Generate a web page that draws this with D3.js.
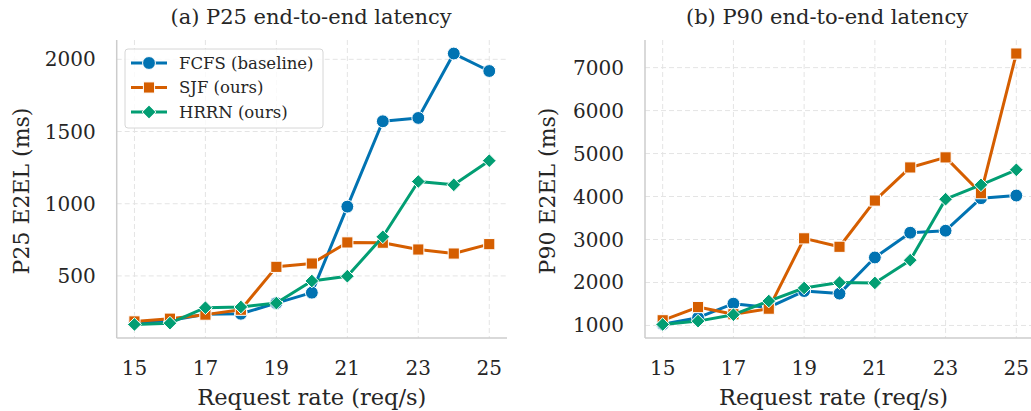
<!DOCTYPE html>
<html>
<head>
<meta charset="utf-8">
<script src="https://cdn.jsdelivr.net/npm/d3@7"></script>
<style>
  body { margin: 0; background: #fff; }
  svg { font-family: "DejaVu Serif", serif; }
  .grid line { stroke: #e4e4e4; stroke-width: 1; stroke-dasharray: 5,3; }
  .spine { stroke: #cccccc; stroke-width: 1.5; }
  .tick-label { font-size: 20px; fill: #262626; }
</style>
</head>
<body>
<div id="container"></div>
<script>
/* DATA */
const rates = [15, 16, 17, 18, 19, 20, 21, 22, 23, 24, 25]
const xTicks = [15, 17, 19, 21, 23, 25]

const seriesNames = ["FCFS (baseline)", "SJF (ours)", "HRRN (ours)"]
const colors = ["#0173b2", "#d55e00", "#029e73"]
const shapes = ["circle", "square", "diamond"]

// P25 end-to-end latency (ms)
const p25Fcfs = [175, 192, 235, 238, 312, 384, 980, 1571, 1594, 2040, 1919]
const p25Sjf  = [185, 204, 232, 266, 563, 586, 732, 730, 683, 655, 720]
const p25Hrrn = [164, 173, 280, 285, 312, 465, 498, 771, 1154, 1131, 1298]
const p25Ticks = [500, 1000, 1500, 2000]

// P90 end-to-end latency (ms)
const p90Fcfs = [1030, 1180, 1507, 1420, 1800, 1741, 2582, 3158, 3205, 3961, 4023]
const p90Sjf  = [1120, 1428, 1260, 1390, 3027, 2831, 3906, 4677, 4911, 4078, 7328]
const p90Hrrn = [1023, 1101, 1250, 1568, 1872, 1997, 1990, 2519, 3938, 4272, 4623]
const p90Ticks = [1000, 2000, 3000, 4000, 5000, 6000, 7000]

const W = 1031, H = 411

const svg = d3.select("#container")
  .append("svg")
  .attr("width", W)
  .attr("height", H)

const symbolFor = {
  circle: d3.symbol().type(d3.symbolCircle).size(130),
  square: d3.symbol().type(d3.symbolSquare).size(125),
  diamond: d3.symbol().type(d3.symbolDiamond2 || d3.symbolDiamond).size(120)
}

function drawPanel(cfg) {
  const all = cfg.series.flat()
  const lo = d3.min(all), hi = d3.max(all)
  const pad = (hi - lo) * 0.05

  const xScale = d3.scaleLinear()
    .domain([14.5, 25.5])
    .range([cfg.left, cfg.right])

  const yScale = d3.scaleLinear()
    .domain([lo - pad, hi + pad])
    .range([338, 40])

  const g = svg.append("g")

  // grid
  const grid = g.append("g").attr("class", "grid")
  grid.selectAll(".gx")
    .data(xTicks)
    .join("line")
    .attr("x1", d => xScale(d)).attr("x2", d => xScale(d))
    .attr("y1", 40).attr("y2", 338)
  grid.selectAll(".gy")
    .data(cfg.yTicks)
    .join("line")
    .attr("x1", cfg.left).attr("x2", cfg.right)
    .attr("y1", d => yScale(d)).attr("y2", d => yScale(d))

  // spines
  g.append("line").attr("class", "spine")
    .attr("x1", cfg.left).attr("x2", cfg.left)
    .attr("y1", 40).attr("y2", 338)
  g.append("line").attr("class", "spine")
    .attr("x1", cfg.left).attr("x2", cfg.right)
    .attr("y1", 338).attr("y2", 338)

  // tick labels
  g.selectAll(".xt")
    .data(xTicks)
    .join("text")
    .attr("class", "tick-label")
    .attr("x", d => xScale(d))
    .attr("y", 375)
    .attr("text-anchor", "middle")
    .text(d => d)

  g.selectAll(".yt")
    .data(cfg.yTicks)
    .join("text")
    .attr("class", "tick-label")
    .attr("x", cfg.left - 21)
    .attr("y", d => yScale(d))
    .attr("dy", "0.35em")
    .attr("text-anchor", "end")
    .text(d => d)

  // axis labels + title
  g.append("text")
    .attr("x", (cfg.left + cfg.right) / 2 + (cfg.xLabelShift || 0))
    .attr("y", 405)
    .attr("text-anchor", "middle")
    .attr("font-size", 22.5)
    .attr("fill", "#262626")
    .text("Request rate (req/s)")

  g.append("text")
    .attr("transform", `translate(${cfg.yLabelX}, ${191}) rotate(-90)`)
    .attr("text-anchor", "middle")
    .attr("font-size", 22)
    .attr("fill", "#262626")
    .text(cfg.yLabel)

  g.append("text")
    .attr("x", cfg.titleX)
    .attr("y", 24)
    .attr("text-anchor", "middle")
    .attr("font-size", 21)
    .attr("fill", "#262626")
    .text(cfg.title)

  // lines
  const lineGen = d3.line()
    .x((d, i) => xScale(rates[i]))
    .y(d => yScale(d))

  cfg.series.forEach((vals, s) => {
    g.append("path")
      .datum(vals)
      .attr("fill", "none")
      .attr("stroke", colors[s])
      .attr("stroke-width", 3)
      .attr("stroke-linejoin", "round")
      .attr("d", lineGen)

    g.selectAll(".m" + s)
      .data(vals)
      .join("path")
      .attr("transform", (d, i) => `translate(${xScale(rates[i])}, ${yScale(d)})`)
      .attr("d", symbolFor[shapes[s]]())
      .attr("fill", colors[s])
      .attr("stroke", "#fff")
      .attr("stroke-width", 1)
  })

  return g
}

drawPanel({
  series: [p25Fcfs, p25Sjf, p25Hrrn],
  yTicks: p25Ticks,
  left: 116.7, right: 507,
  title: "(a) P25 end-to-end latency", titleX: 311,
  yLabel: "P25 E2EL (ms)", yLabelX: 29
})

drawPanel({
  series: [p90Fcfs, p90Sjf, p90Hrrn],
  yTicks: p90Ticks,
  left: 645, right: 1034,
  title: "(b) P90 end-to-end latency", titleX: 827,
  yLabel: "P90 E2EL (ms)", yLabelX: 555,
  xLabelShift: -6
})

// LEGEND
const legend = svg.append("g").attr("transform", "translate(125, 49)")
legend.append("rect")
  .attr("width", 198).attr("height", 79)
  .attr("rx", 3)
  .attr("fill", "#fff").attr("fill-opacity", 0.8)
  .attr("stroke", "#d6d6d6").attr("stroke-width", 1)

seriesNames.forEach((name, s) => {
  const y = 14 + s * 24.5
  legend.append("line")
    .attr("x1", 6).attr("x2", 42)
    .attr("y1", y).attr("y2", y)
    .attr("stroke", colors[s]).attr("stroke-width", 3)
  legend.append("path")
    .attr("transform", `translate(24, ${y})`)
    .attr("d", symbolFor[shapes[s]]())
    .attr("fill", colors[s])
    .attr("stroke", "#fff")
    .attr("stroke-width", 1)
  legend.append("text")
    .attr("x", 54).attr("y", y)
    .attr("dy", "0.35em")
    .attr("font-size", 16.5)
    .attr("fill", "#262626")
    .text(name)
})
</script>
</body>
</html>
